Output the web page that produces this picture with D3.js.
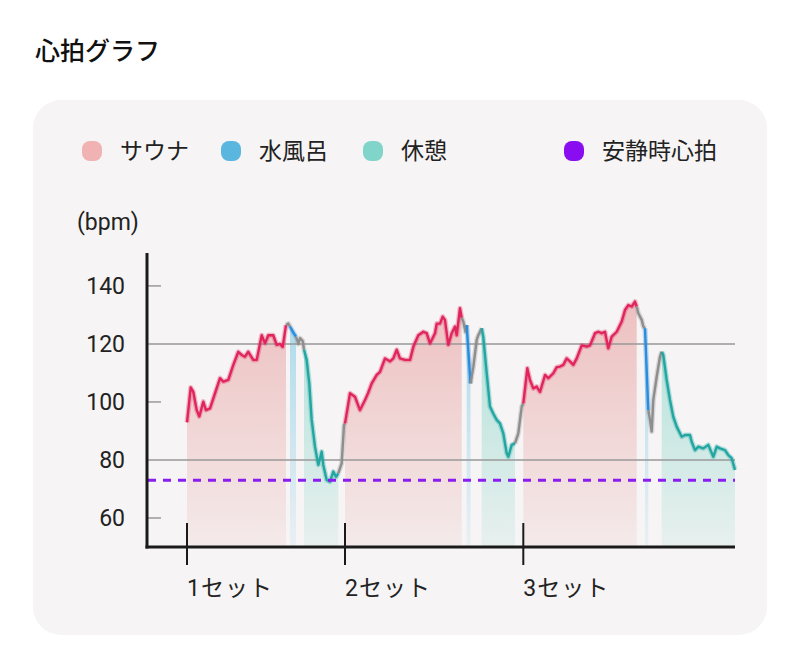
<!DOCTYPE html>
<html><head><meta charset="utf-8">
<script src="https://cdn.jsdelivr.net/npm/d3@7"></script>
<style>html,body{margin:0;padding:0;background:#fff;}svg{display:block;font-family:Roboto,"Noto Sans CJK JP","Noto Sans",sans-serif;}</style>
</head><body><svg id="chart" width="800" height="671"></svg>
<script>
// ---- data ----
const title = "心拍グラフ";
const legendItems = [
  {key:"sauna", label:"サウナ"},
  {key:"water", label:"水風呂"},
  {key:"rest",  label:"休憩"},
  {key:"resting", label:"安静時心拍"}
];
const yTicks = [60, 80, 100, 120, 140];
const yGrid = [80, 120];
const yUnit = "(bpm)";
const restingHR = 73;
const setLabels = ["1セット", "2セット", "3セット"];
// time (samples) and heart rate (bpm)
const hrTime = [
  0,3.7,6.3,9.7,12.3,16.3,19,23,28,33,36.3,41.3,46.3,51.3,54.7,58,61.3,66.3,69.7,74.7,78,81.3,86.3,89.7,93,95.7,99,
  101.3,103,106.3,109,111.3,113,115.7,
  117,119.7,122.3,124.7,128,131.3,134.7,136.3,139.7,143,146.3,149,151.3,
  154.7,157,
  158,163,168,173,178,181,184.7,189.7,193,198,203,206.3,209.7,213,218,223,226.3,231.3,236.3,239.7,243,248,249.7,253,255.7,258,261.3,264.7,268,269.7,273,274.7,
  276.3,278.5,279.7,283.5,286.3,289.7,291.3,
  294.7,296.3,299.7,303,306.3,309.7,313,316.3,319.7,321.3,324.7,328,
  331.3,334.7,
  336.3,340.3,343,346.3,349.7,353,358,361.3,366.3,369.7,373,376.3,379.7,383,386.3,389.7,394.7,399.7,403,408,411.3,414.7,418,421.3,424.7,429.7,434.7,438,441.3,444.7,448,449.7,
  451.3,454.7,456.3,458,461.3,463,464.7,466.3,469.7,473,
  474.7,476.3,479.7,483,486.3,489.7,493,494.7,498,503,504.7,508,511.3,516.3,521.3,526.3,529.7,533,538,541.3,544.7,548
];
const hrBpm = [
  93,105,103.5,97.2,95,100.1,97.2,97.8,103,108.2,107,107.6,112.8,117.3,116.2,115.6,117.3,114.5,114.5,123,120.2,123,123,119.7,120,119,126.5,
  127,126,124,122.5,120,122,121,
  118,114.5,106.4,93.8,84.6,78.3,82.9,78.3,73.1,72.5,76,74.2,75.4,
  78.9,92,
  92.6,103,101.8,97.2,100.7,103,106.4,109.3,110.4,115,114,115,118,115,114.5,114.5,119,123,124.2,123.7,120.2,123.7,127,127,129.4,128.3,119.7,123.7,126,123,132.3,129,
  127.7,124.2,126.5,106.4,112,121.4,123,
  125.4,122.5,110,98.4,96,93.8,92.6,89.2,82.3,81.1,85.2,85.7,
  89.2,98.4,
  99.5,111.6,107.6,104.7,105.3,103.5,109.3,108.2,109.9,112,112.2,112.8,115,114,112.8,115,119.5,119.1,119.5,123.7,124.2,123.7,124.2,118.5,122.5,124.2,127.7,131.7,133.4,132.9,134.6,132.9,
  130.6,128.3,126,125.4,97.2,93.8,89.8,100.7,108.7,115.6,
  117.3,116.2,107.6,100.7,94.9,91.5,89.2,88,88.6,88.6,86.3,83.4,84.6,84,85.2,81.1,84.6,84,83.4,81.7,80.6,76.6
];
// phases: type, start, end (same time units)
const phaseType  = ["sauna","water","rest","sauna","water","rest","sauna","water","rest"];
const phaseStart = [0,   103, 117,   158,   279.7, 294.7, 336.3, 458,   474.7];
const phaseEnd   = [99,  109, 151.3, 274.7, 283.5, 328,   449.7, 461.3, 548];
const xDomain = [-40, 548];
const yDomain = [50, 151];

// ---- styles ----
const lineColor = {sauna:"#e0245c", water:"#2a8cdc", rest:"#22a6a2", gap:"#8e8e8e"};
const areaColor = {sauna:"#e8a0a0", water:"#8fd0e8", rest:"#7fd3c6"};
const legendColor = {sauna:"#f0b2b2", water:"#5ab6de", rest:"#80d4ca", resting:"#8a0cf0"};
const txt = "#222";

const svg = d3.select("#chart");
const pts = hrTime.map((t,i)=>({t, v:hrBpm[i]}));

svg.append("text").attr("x",35).attr("y",60).attr("font-size",25).attr("font-weight",500)
  .attr("fill","#111").text(title);

svg.append("rect").attr("x",33).attr("y",100).attr("width",734).attr("height",535)
  .attr("rx",28).attr("fill","#f6f4f4");

// legend
const legendX = [92, 231, 373, 574];
legendItems.forEach((d,i)=>{
  const g = svg.append("g").attr("transform",`translate(${legendX[i]},151)`);
  g.append("rect").attr("x",-10).attr("y",-10).attr("width",20).attr("height",20).attr("rx",8)
    .attr("fill",legendColor[d.key]);
  g.append("text").attr("x",28).attr("y",8).attr("font-size",23).attr("fill",txt).text(d.label);
});

const x = d3.scaleLinear().domain(xDomain).range([147, 735]);
const y = d3.scaleLinear().domain(yDomain).range([547, 254]);

const defs = svg.append("defs");
const topOp = {sauna:0.62, water:0.75, rest:0.62};
["sauna","water","rest"].forEach(k=>{
  const gr = defs.append("linearGradient").attr("id","g-"+k).attr("gradientUnits","userSpaceOnUse")
    .attr("x1",0).attr("x2",0).attr("y1",y(135)).attr("y2",y(50));
  gr.append("stop").attr("offset",0).attr("stop-color",areaColor[k]).attr("stop-opacity",topOp[k]);
  gr.append("stop").attr("offset",1).attr("stop-color",areaColor[k]).attr("stop-opacity",0.12);
});

// y axis label & ticks
svg.append("text").attr("x",77).attr("y",230).attr("font-size",23).attr("fill",txt).text(yUnit);
const yAxis = d3.axisLeft(y).tickValues(yTicks).tickSize(0).tickPadding(22);
const yg = svg.append("g").attr("transform","translate(147,0)").call(yAxis);
yg.select(".domain").remove();
yg.selectAll("text").attr("font-size",23).attr("fill",txt).attr("font-family","Roboto, Noto Sans CJK JP, sans-serif");

// short ticks
svg.append("g").selectAll("line").data(yTicks.filter(v=>!yGrid.includes(v))).join("line")
  .attr("x1",147).attr("x2",161).attr("y1",d=>y(d)).attr("y2",d=>y(d))
  .attr("stroke","#9a9a9a").attr("stroke-width",1.5);

// areas
const area = d3.area().x(d=>x(d.t)).y0(y(yDomain[0])).y1(d=>y(d.v));
phaseType.forEach((tp,i)=>{
  const seg = pts.filter(p=>p.t>=phaseStart[i] && p.t<=phaseEnd[i]);
  svg.append("path").datum(seg).attr("d",area).attr("fill",`url(#g-${tp})`);
});

// gridlines
svg.append("g").selectAll("line").data(yGrid).join("line")
  .attr("x1",147).attr("x2",735).attr("y1",d=>y(d)).attr("y2",d=>y(d))
  .attr("stroke","#999").attr("stroke-width",1.5);

// lines
const line = d3.line().x(d=>x(d.t)).y(d=>y(d.v));
const segs = [];
phaseType.forEach((tp,i)=>{
  if(i>0) segs.push({type:"gap", pts:pts.filter(p=>p.t>=phaseEnd[i-1] && p.t<=phaseStart[i])});
  segs.push({type:tp, pts:pts.filter(p=>p.t>=phaseStart[i] && p.t<=phaseEnd[i])});
});
segs.forEach(s=>{
  svg.append("path").datum(s.pts).attr("d",line).attr("fill","none")
    .attr("stroke",lineColor[s.type]).attr("stroke-opacity",0.3).attr("stroke-width",5)
    .attr("stroke-linejoin","round");
});
segs.forEach(s=>{
  svg.append("path").datum(s.pts).attr("d",line).attr("fill","none")
    .attr("stroke",lineColor[s.type]).attr("stroke-width",2.4).attr("stroke-linejoin","round");
});

// resting line
svg.append("line").attr("x1",148).attr("x2",735).attr("y1",y(restingHR)).attr("y2",y(restingHR))
  .attr("stroke","#8a1ef0").attr("stroke-width",3).attr("stroke-dasharray","8,7");

// axes lines
svg.append("line").attr("x1",147).attr("x2",147).attr("y1",253).attr("y2",y(yDomain[0])+1.5)
  .attr("stroke","#1a1a1a").attr("stroke-width",3);
svg.append("line").attr("x1",145.5).attr("x2",735).attr("y1",y(yDomain[0])).attr("y2",y(yDomain[0]))
  .attr("stroke","#1a1a1a").attr("stroke-width",3);

// set ticks
const setStarts = phaseStart.filter((s,i)=>phaseType[i]==="sauna");
const sg = svg.append("g");
setStarts.forEach((s,i)=>{
  sg.append("line").attr("x1",x(s)).attr("x2",x(s)).attr("y1",523).attr("y2",565)
    .attr("stroke","#1a1a1a").attr("stroke-width",2);
  sg.append("text").attr("x",x(s)).attr("y",596).attr("font-size",23).attr("fill",txt)
    .attr("letter-spacing",1).text(setLabels[i]);
});
</script></body></html>
